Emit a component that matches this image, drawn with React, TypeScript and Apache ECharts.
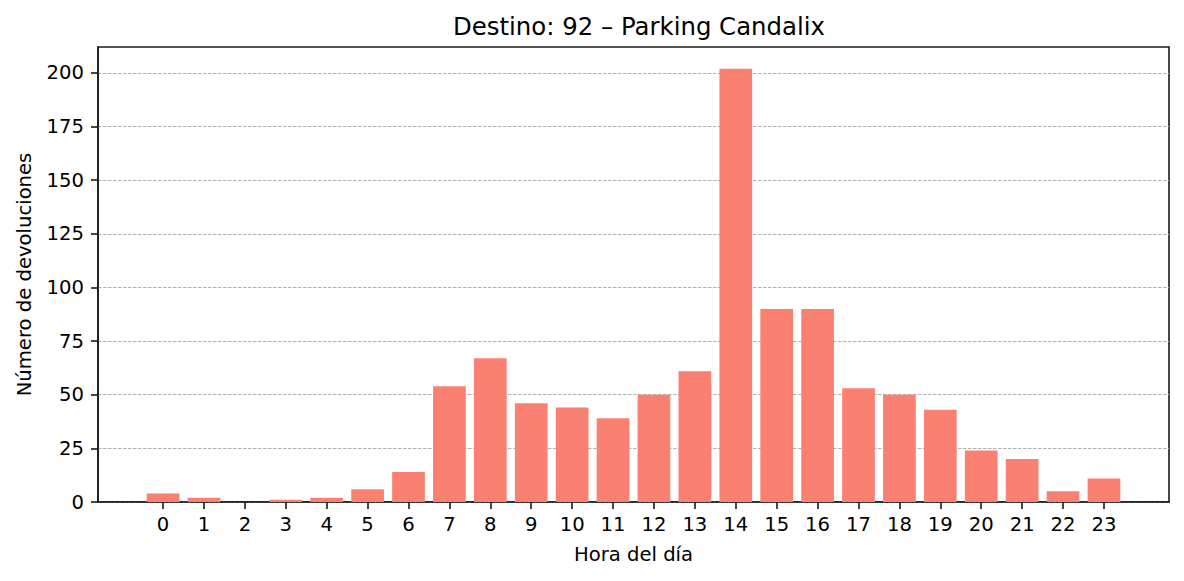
import React, { useEffect, useRef } from "react";
import * as echarts from "echarts";

const hours: number[] = [0,1,2,3,4,5,6,7,8,9,10,11,12,13,14,15,16,17,18,19,20,21,22,23];
const devoluciones: number[] = [4,2,0,1,2,6,14,54,67,46,44,39,50,61,202,90,90,53,50,43,24,20,5,11];
const yTicks: number[] = [0,25,50,75,100,125,150,175,200];

export default function App() {
  const ref = useRef<HTMLDivElement>(null);
  useEffect(() => {
    if (!ref.current) return;
    const chart = echarts.init(ref.current, null, { renderer: "svg" });
    const font = "DejaVu Sans";
    const fs = 19.6;
    chart.setOption({
      animation: false,
      backgroundColor: "#ffffff",
      title: {
        text: "Destino: 92 – Parking Candalix",
        left: 634,
        textAlign: "center",
        top: 9,
        textStyle: { fontFamily: font, fontSize: 24.4, fontWeight: "normal", color: "#000" },
      },
      grid: {
        left: 98, right: 15, top: 47, bottom: 79,
        show: true, borderColor: "#1a1a1a", borderWidth: 1.6, backgroundColor: "transparent",
      },
      xAxis: {
        type: "value",
        min: -1.59,
        max: 24.59,
        name: "Hora del día",
        nameLocation: "middle",
        nameGap: 42,
        nameTextStyle: { fontFamily: font, fontSize: fs, color: "#000" },
        axisLine: { show: true, onZero: false, lineStyle: { color: "#1a1a1a", width: 1.6 } },
        axisTick: { show: true, customValues: hours, length: 7, lineStyle: { color: "#1a1a1a", width: 1.6 } },
        axisLabel: { customValues: hours, fontFamily: font, fontSize: fs, color: "#000", margin: 12 },
        splitLine: { show: false },
      },
      yAxis: {
        type: "value",
        min: 0,
        max: 212.1,
        name: "Número de devoluciones",
        nameLocation: "middle",
        nameGap: 64,
        nameTextStyle: { fontFamily: font, fontSize: fs, color: "#000" },
        axisLine: { show: true, onZero: false, lineStyle: { color: "#1a1a1a", width: 1.6 } },
        axisTick: { show: true, customValues: yTicks, length: 7, lineStyle: { color: "#1a1a1a", width: 1.6 } },
        axisLabel: { customValues: yTicks, fontFamily: font, fontSize: fs, color: "#000", margin: 14 },
        splitLine: { show: true, lineStyle: { color: "#b0b0b0", type: [3.5, 1.5], width: 1 } },
        interval: 25,
      },
      series: [
        {
          type: "bar",
          data: hours.map((h, i) => [h, devoluciones[i]]),
          barWidth: 32.7,
          itemStyle: { color: "#FA8072" },
        },
      ],
    });
    return () => chart.dispose();
  }, []);
  return <div ref={ref} style={{ width: 1184, height: 581, margin: -8 }} />;
}
